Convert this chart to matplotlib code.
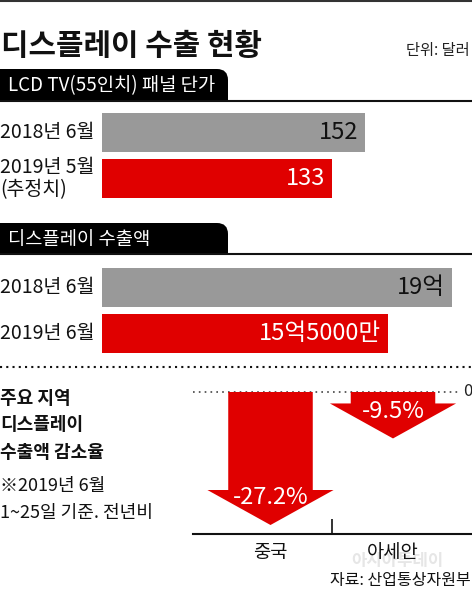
import matplotlib
matplotlib.use("Agg")
import matplotlib.pyplot as plt
from matplotlib.patches import FancyBboxPatch, Rectangle
from matplotlib.transforms import blended_transform_factory

plt.rcParams['font.family'] = ['Noto Sans CJK KR', 'DejaVu Sans']

# data
title = '디스플레이 수출 현황'
unit = '단위: 달러'

price_title = 'LCD TV(55인치) 패널 단가'
price_cats = ['2018년 6월', '2019년 5월\n(추정치)']
price_vals = [152, 133]
price_text = ['152', '133']

export_title = '디스플레이 수출액'
export_cats = ['2018년 6월', '2019년 6월']
export_vals = [19.0, 15.5]          # 억 달러
export_text = ['19억', '15억5000만']

region_note = ['주요 지역', '디스플레이', '수출액 감소율']
region_sub = ['※2019년 6월', '1~25일 기준. 전년비']
regions = ['중국', '아세안']
region_vals = [-27.2, -9.5]
region_text = ['-27.2%', '-9.5%']

source = '자료: 산업통상자원부'

GRAY = '#999999'
RED = '#e00000'
W, H = 472, 593

fig = plt.figure(figsize=(W / 100, H / 100), dpi=100)
fig.patch.set_facecolor('white')

# background layer in pixel coordinates
bg = fig.add_axes([0, 0, 1, 1])
bg.set_xlim(0, W)
bg.set_ylim(H, 0)
bg.axis('off')


def px_axes(x0, y0, x1, y1):
    a = fig.add_axes([x0 / W, 1 - y1 / H, (x1 - x0) / W, (y1 - y0) / H])
    a.patch.set_alpha(0)
    return a


def tab(y0, y1, text):
    bg.add_patch(FancyBboxPatch((0, y0), 228, y1 - y0,
                                boxstyle='round,pad=0,rounding_size=11',
                                fc='black', ec='none'))
    bg.add_patch(Rectangle((0, y0), 120, y1 - y0, fc='black', ec='none'))
    bg.add_patch(Rectangle((0, y0 + 14), 228, y1 - y0 - 14, fc='black', ec='none'))
    bg.axhline(y1, color='#111111', lw=1.5)
    bg.text(8, (y0 + y1) / 2 + 1, text, color='white', fontsize=13.5,
            va='center', ha='left')


bg.axhline(1, color='#333333', lw=1.5)
bg.text(1, 46, title, fontsize=21.5, fontweight='heavy',
        va='center', ha='left', color='#111111')
bg.text(470, 51, unit, fontsize=11, va='center', ha='right', color='#222222')

tab(69, 101, price_title)
tab(223, 254, export_title)

bg.axhline(367, color='#111111', lw=1.5, linestyle=(0, (1, 2)))


def bar_block(y_top, cats, vals, texts, xmax):
    ax = px_axes(102, y_top, W, y_top + 92)
    ypos = list(range(len(vals)))
    ax.barh(ypos, vals, height=0.85, color=[GRAY, RED])
    ax.set_xlim(0, xmax)
    ax.set_ylim(1.5, -0.5)
    ax.axis('off')
    tr = blended_transform_factory(fig.transFigure, ax.transData)
    for y, c, v, t, col in zip(ypos, cats, vals, texts, ['#111111', 'white']):
        fig.text(0.0, y, c, transform=tr, fontsize=14, va='center', ha='left',
                 color='#111111', linespacing=1.1)
        ax.annotate(t, (v, y), xytext=(-5, 0), textcoords='offset points',
                    ha='right', va='center', fontsize=17, color=col)
    return ax


bar_block(109.5, price_cats, price_vals, price_text, 370 / 1.730)
bar_block(264.5, export_cats, export_vals, export_text, 370 / 18.42)

# left note
for i, t in enumerate(region_note):
    bg.text(0, 398 + 27 * i, t, fontsize=13, fontweight='bold', va='center',
            ha='left', color='#111111')
for i, t in enumerate(region_sub):
    bg.text(0, 486 + 27 * i, t, fontsize=13, va='center', ha='left',
            color='#111111')

# arrow chart
ax = px_axes(193, 392, W, 534)
px_per = (525 - 392) / 27.2
ax.set_ylim(-(534 - 392) / px_per, 0)
ax.set_xlim(-77.5 / 122.5, (279 - 77.5) / 122.5)
shaft, head, head_len = 0.69, 1.03, 35 / px_per
for x, v, t in zip(range(len(regions)), region_vals, region_text):
    hb = v + head_len
    xs = [x - shaft / 2, x + shaft / 2, x + shaft / 2, x + head / 2, x,
          x - head / 2, x - shaft / 2]
    ys = [0, 0, hb, hb, v, hb, hb]
    ax.fill(xs, ys, color=RED, lw=0, zorder=2)
    ax.text(x, v + 5.6, t, color='white', fontsize=17, ha='center', va='center',
            zorder=3)
ax.axhline(0, xmin=0, xmax=(460 - 193) / 279, color='#444444', lw=1.2,
           linestyle=(0, (1, 2.5)), clip_on=False, zorder=1)
ax.text(1.0, 0, '0', transform=blended_transform_factory(ax.transAxes, ax.transData),
        fontsize=12, ha='right', va='center', color='#222222')
for s in ['top', 'left', 'right']:
    ax.spines[s].set_visible(False)
ax.spines['bottom'].set_linewidth(1.5)
ax.spines['bottom'].set_color('#111111')
ax.set_yticks([])
ax.set_xticks(range(len(regions)))
ax.set_xticklabels(regions, fontsize=13.5, color='#111111')
ax.tick_params(axis='x', which='major', length=0, pad=6)
ax.set_xticks([0.5], minor=True)
ax.tick_params(axis='x', which='minor', direction='in', length=11, width=1.2,
               color='#111111')

# watermark and source
bg.text(397, 561, '아시아투데이', fontsize=12, fontweight='bold', color='#e6e6e6',
        ha='center', va='center', zorder=0)
bg.text(471, 581, source, fontsize=11.5, ha='right', va='center', color='#111111')

fig.savefig('out.png', dpi=100, facecolor='white')
